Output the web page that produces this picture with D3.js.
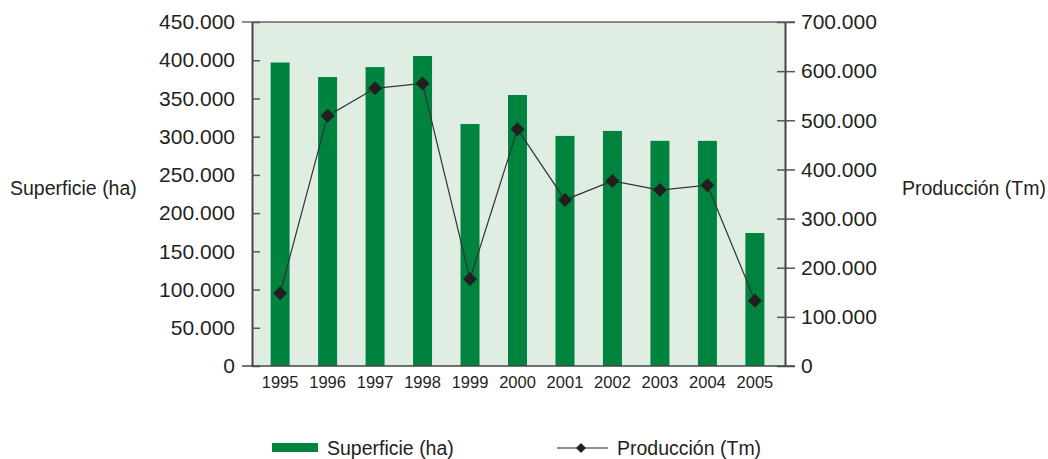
<!DOCTYPE html>
<html><head><meta charset="utf-8">
<script src="https://cdn.jsdelivr.net/npm/d3@7"></script>
<style>body{margin:0;background:#fff}svg{display:block}text{font-family:"Liberation Sans",Arial,sans-serif;fill:#231f20}</style>
</head><body>
<svg id="c" width="1048" height="459"></svg>
<script>
const years = ["1995","1996","1997","1998","1999","2000","2001","2002","2003","2004","2005"];
const superficie = [397000,378000,391000,405500,316500,354500,301000,307500,294500,294500,174000];
const produccion = [148000,509000,565000,575000,177000,482000,338000,376500,358000,368000,133000];
const leftTicks = [0,50000,100000,150000,200000,250000,300000,350000,400000,450000];
const rightTicks = [0,100000,200000,300000,400000,500000,600000,700000];

const svg = d3.select("#c");
const L=252, R=785, T=22, B=366;
const x = d3.scaleBand().domain(years).range([L+2,R-4]).paddingInner(0.6).paddingOuter(0.35);
const yL = d3.scaleLinear().domain([0,450000]).range([B,T]);
const yR = d3.scaleLinear().domain([0,700000]).range([B,T]);
const fmt = v => v===0 ? "0" : d3.format(",")(v).replace(/,/g,".");
const FF = "'Liberation Sans',Arial,sans-serif";

svg.append("rect").attr("x",L).attr("y",T).attr("width",R-L).attr("height",B-T).attr("fill","#dfede3");

svg.selectAll(".bar").data(years).join("rect")
  .attr("x",d=>x(d)).attr("width",x.bandwidth())
  .attr("y",(d,i)=>yL(superficie[i])).attr("height",(d,i)=>B-yL(superficie[i]))
  .attr("fill","#00833e");

svg.append("line").attr("x1",L-10).attr("x2",R+10).attr("y1",T).attr("y2",T).attr("stroke","#666").attr("stroke-width",1.5);

const gl = svg.append("g").attr("transform",`translate(${L},0)`)
  .call(d3.axisLeft(yL).tickValues(leftTicks).tickFormat(fmt).tickSizeInner(10).tickSizeOuter(0).tickPadding(7));
gl.selectAll(".tick line").attr("x2",8);
const gr = svg.append("g").attr("transform",`translate(${R},0)`)
  .call(d3.axisRight(yR).tickValues(rightTicks).tickFormat(fmt).tickSizeInner(10).tickSizeOuter(0).tickPadding(6));
gr.selectAll(".tick line").attr("x1",-8);
[gl,gr].forEach(g=>{
  g.selectAll("path").attr("stroke","#444").attr("stroke-width",2);
  g.selectAll(".tick line").attr("stroke","#555").attr("stroke-width",1.5);
  g.selectAll("text").attr("font-size",21).style("font-family",FF).attr("fill","#231f20");
});

const gx = svg.append("g").attr("transform",`translate(0,${B})`)
  .call(d3.axisBottom(x).tickSize(0).tickPadding(10));
gx.select("path").attr("d",`M${L-10},0H${R+10}`).attr("stroke","#444").attr("stroke-width",1.5);
gx.selectAll("text").attr("font-size",16.5).style("font-family",FF).attr("fill","#231f20");

const cx = d=>x(d)+x.bandwidth()/2;
const line = d3.line().x((d,i)=>cx(years[i])).y(d=>yR(d));
svg.append("path").datum(produccion).attr("d",line).attr("fill","none").attr("stroke","#333").attr("stroke-width",1.2);
svg.selectAll(".mk").data(produccion).join("path").attr("class","mk")
  .attr("d","M0,-7L7,0L0,7L-7,0Z")
  .attr("transform",(d,i)=>`translate(${cx(years[i])},${yR(d)})`)
  .attr("fill","#231f20");

svg.append("text").attr("x",10).attr("y",195).attr("font-size",19.5).text("Superficie (ha)");
svg.append("text").attr("x",1046).attr("y",195).attr("text-anchor","end").attr("font-size",19.5).text("Producción (Tm)");

svg.append("rect").attr("x",272).attr("y",443).attr("width",46).attr("height",9).attr("fill","#00833e");
svg.append("text").attr("x",327).attr("y",455).attr("font-size",19.5).text("Superficie (ha)");
svg.append("line").attr("x1",557).attr("x2",608).attr("y1",448).attr("y2",448).attr("stroke","#231f20").attr("stroke-width",1.2);
svg.append("path").attr("d","M0,-5L5,0L0,5L-5,0Z").attr("transform","translate(581,448)").attr("fill","#231f20");
svg.append("text").attr("x",617).attr("y",455).attr("font-size",19.5).text("Producción (Tm)");
</script>
</body></html>
